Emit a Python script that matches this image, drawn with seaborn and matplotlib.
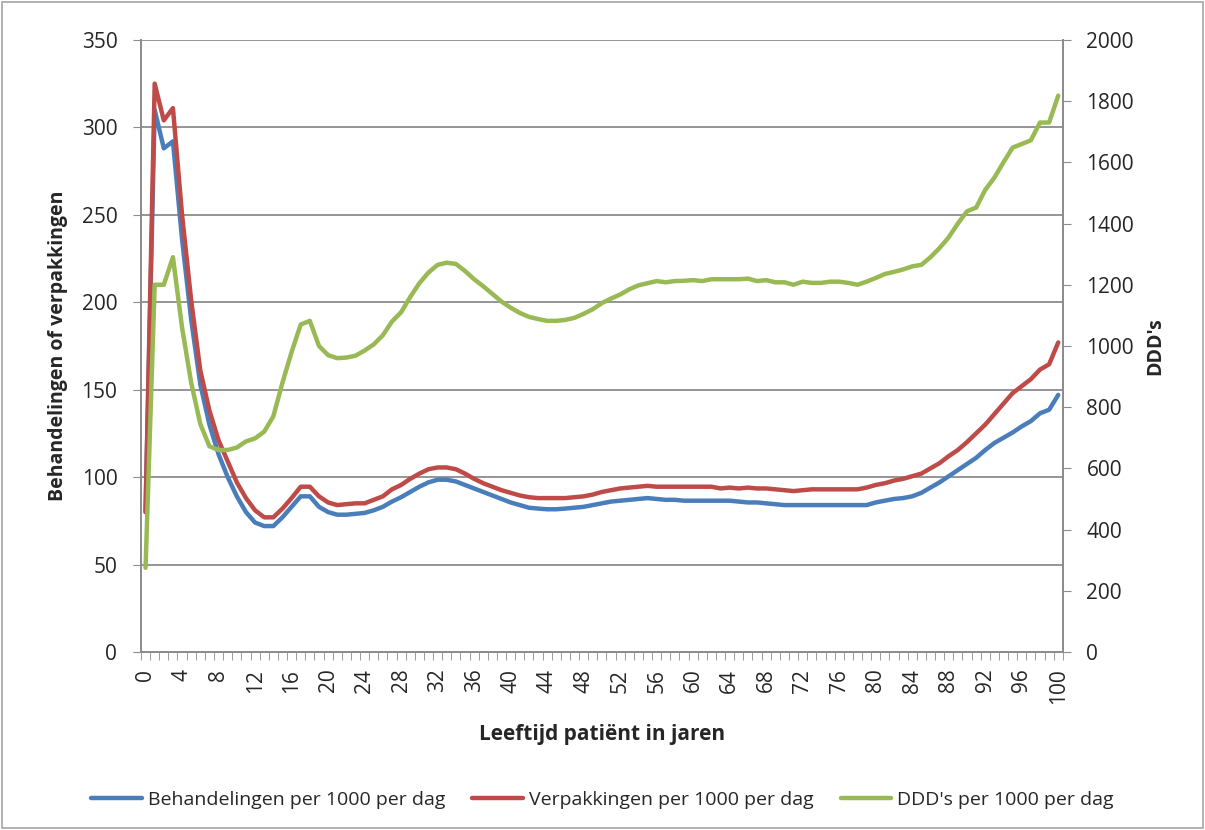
import numpy as np
import pandas as pd
import matplotlib
matplotlib.use("Agg")
import matplotlib.pyplot as plt
from matplotlib.patches import Rectangle
from matplotlib.ticker import MultipleLocator, FixedLocator
import seaborn as sns

# Leeftijd 0..100
ages = list(range(0, 101))

# Behandelingen per 1000 per dag (linker as)
behandelingen = [
    80, 310, 288, 292, 236, 190, 153, 130, 113, 100,
    89, 80, 74, 72, 72, 77, 83, 89, 89, 83,
    80, 78.5, 78.5, 79, 79.5, 81, 83, 86, 88.5, 91.5,
    94.5, 97, 98.5, 98.5, 97.5, 95.5, 93.5, 91.5, 89.5, 87.5,
    85.5, 84, 82.5, 82, 81.6, 81.6, 82, 82.5, 83, 84,
    85, 86, 86.5, 87, 87.5, 88, 87.5, 87, 87, 86.5,
    86.5, 86.5, 86.5, 86.5, 86.5, 86, 85.5, 85.5, 85, 84.5,
    84, 84, 84, 84, 84, 84, 84, 84, 84, 84,
    85.5, 86.5, 87.5, 88, 89, 91, 94, 97, 100.5, 104,
    107.5, 111, 115.5, 119.5, 122.5, 125.5, 129, 132, 136.5, 138.5,
    147,
]

# Verpakkingen per 1000 per dag (linker as)
verpakkingen = [
    80, 325, 304, 311, 250, 201, 161, 138, 121, 109,
    97, 88, 81, 77, 77, 82, 88, 94.5, 94.5, 89,
    85.5, 84, 84.5, 85, 85, 87, 89, 93, 95.5, 99,
    102, 104.5, 105.5, 105.5, 104.5, 102, 99, 96.5, 94.5, 92.5,
    91, 89.5, 88.5, 88, 88, 88, 88, 88.5, 89, 90,
    91.5, 92.5, 93.5, 94, 94.5, 95, 94.5, 94.5, 94.5, 94.5,
    94.5, 94.5, 94.5, 93.5, 94, 93.5, 94, 93.5, 93.5, 93,
    92.5, 92, 92.5, 93, 93, 93, 93, 93, 93, 94,
    95.5, 96.5, 98, 99, 100.5, 102, 105, 108, 112, 115.5,
    120, 125, 130, 136, 142, 148, 152, 156, 161.5, 164.5,
    177,
]

# DDD's per 1000 per dag (rechter as)
ddds = [
    275, 1200, 1200, 1290, 1060, 880, 745, 672, 660, 660,
    668, 688, 698, 720, 770, 880, 980, 1070, 1082, 1000,
    970, 960, 962, 968, 985, 1005, 1035, 1080, 1110, 1160,
    1205, 1240, 1265, 1272, 1268, 1245, 1218, 1195, 1170, 1145,
    1125, 1108, 1095, 1088, 1082, 1082, 1085, 1092, 1105, 1120,
    1140, 1155, 1168, 1185, 1198, 1205, 1212, 1208, 1212, 1213,
    1215, 1212, 1218, 1218, 1218, 1218, 1220, 1212, 1215, 1208,
    1208, 1200, 1210, 1206, 1206, 1210, 1210, 1206, 1200, 1210,
    1222, 1235, 1242, 1250, 1260, 1265, 1290, 1320, 1355, 1400,
    1440, 1452, 1510, 1550, 1600, 1648, 1660, 1672, 1730, 1730,
    1818,
]

labels = ["Behandelingen per 1000 per dag", "Verpakkingen per 1000 per dag",
          "DDD's per 1000 per dag"]
colors = ["#4A7EBB", "#BE4B48", "#98B954"]

sns.set_style("white")
plt.rcParams["font.family"] = ["Open Sans", "DejaVu Sans"]

df = pd.DataFrame({"leeftijd": ages, "beh": behandelingen,
                   "verp": verpakkingen, "ddd": ddds})

fig = plt.figure(figsize=(12.05, 8.3), dpi=100)
ax = fig.add_axes([0.117, 0.2145, 0.765, 0.7374])
ax2 = ax.twinx()

sns.lineplot(data=df, x="leeftijd", y="beh", ax=ax, color=colors[0], lw=3.2, label=labels[0], legend=False)
sns.lineplot(data=df, x="leeftijd", y="verp", ax=ax, color=colors[1], lw=3.2, label=labels[1], legend=False)
sns.lineplot(data=df, x="leeftijd", y="ddd", ax=ax2, color=colors[2], lw=3.2, label=labels[2], legend=False)

grey = "#8C8C8C"
# categorie-as: elke leeftijd tussen twee streepjes
ax.set_xlim(-0.5, 100.5)
ax.set_ylim(0, 350)
ax2.set_ylim(0, 2000)
ax.yaxis.set_major_locator(MultipleLocator(50))
ax2.yaxis.set_major_locator(MultipleLocator(200))
ax.xaxis.set_major_locator(FixedLocator(ages[::4]))
ax.xaxis.set_minor_locator(FixedLocator([a - 0.5 for a in ages] + [100.5]))
ax.grid(axis="y", color=grey, lw=1.3)
ax.set_axisbelow(True)

for a in (ax, ax2):
    a.spines["top"].set_visible(False)
    for side in ("left", "right", "bottom"):
        a.spines[side].set_color(grey)
        a.spines[side].set_linewidth(1.3)

ax.tick_params(axis="x", which="major", length=0, labelrotation=90, labelsize=15, pad=12)
ax.tick_params(axis="x", which="minor", direction="out", length=6, color=grey, bottom=True)
ax.tick_params(axis="y", direction="out", length=6, color=grey, left=True, labelsize=15, pad=11)
ax2.tick_params(axis="y", direction="out", length=6, color=grey, right=True, labelsize=15, pad=11)

ax.set_xlabel("Leeftijd patiënt in jaren", fontsize=15, fontweight="bold", labelpad=14)
ax.set_ylabel("Behandelingen of verpakkingen", fontsize=14, fontweight="bold", labelpad=10)
ax2.set_ylabel("DDD's", fontsize=14, fontweight="bold", labelpad=8)

handles = ax.get_lines()[:2] + ax2.get_lines()[:1]
fig.legend(handles, labels, loc="center", bbox_to_anchor=(0.5, 0.036), ncol=3,
           frameon=False, fontsize=14, handlelength=2.6, columnspacing=1.4, handletextpad=0.3)

fig.patches.append(Rectangle((0.002, 0.002), 0.996, 0.996, transform=fig.transFigure,
                             fill=False, edgecolor="#A6A6A6", lw=1.2))

fig.savefig("out.png", dpi=100, facecolor="white")
